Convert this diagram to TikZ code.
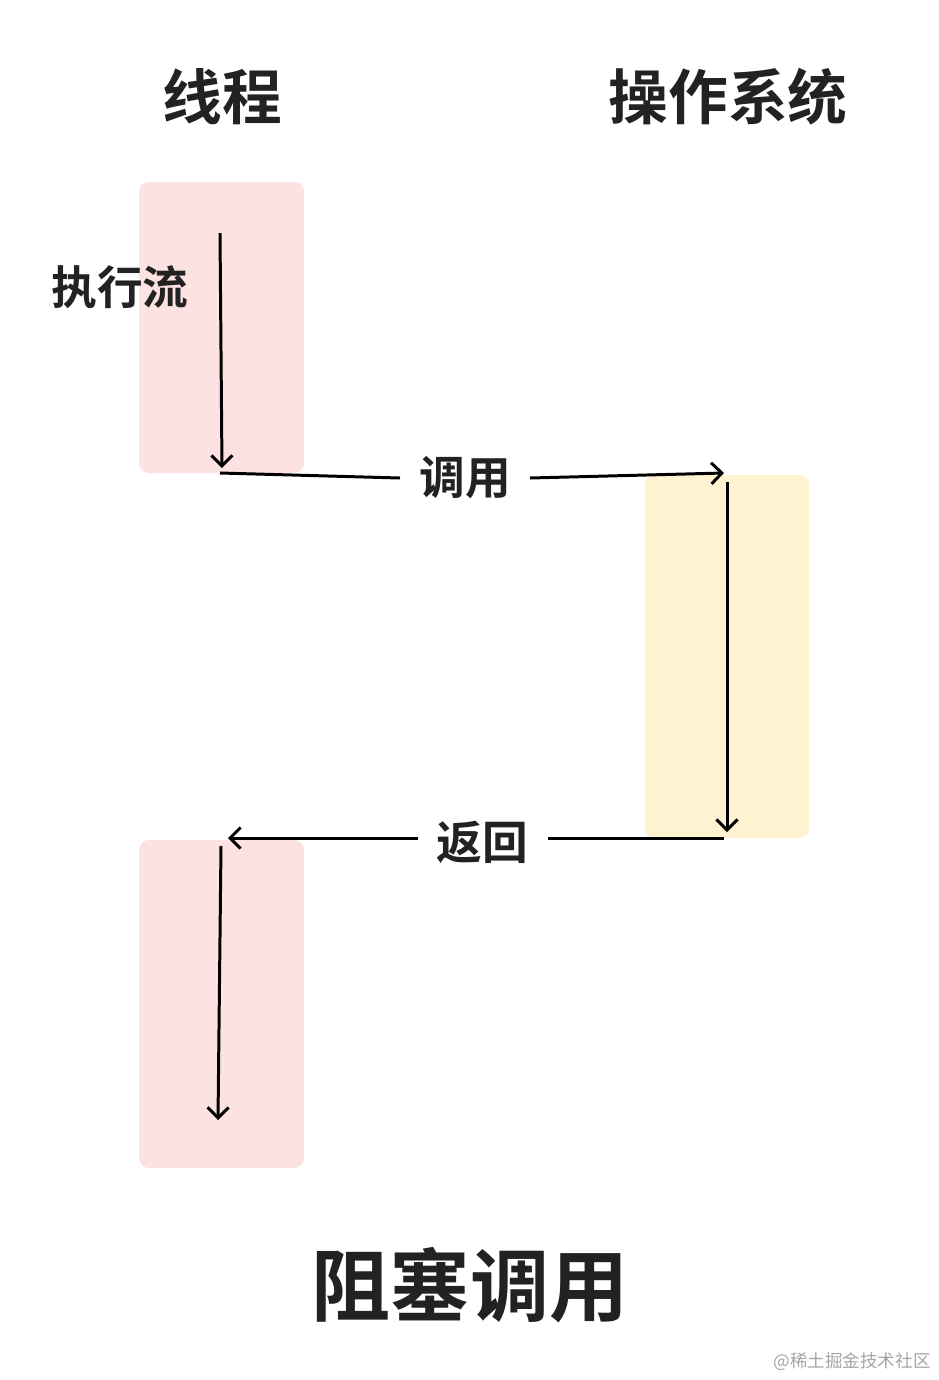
\documentclass[tikz,border=0pt]{standalone}
\usepackage{fontspec}
\newfontfamily\cjk{Noto Sans CJK SC Bold}
\newfontfamily\cjkr{Noto Sans CJK SC}
\usetikzlibrary{arrows.meta}
\definecolor{pinkbg}{HTML}{FDE2E2}
\definecolor{yellowbg}{HTML}{FEF2D0}
\definecolor{ink}{HTML}{222222}
\begin{document}
\begin{tikzpicture}[x=0.02cm,y=-0.02cm,
  lane/.style={rounded corners=0.2cm},
  flow/.style={line width=1.7pt,draw=black,-{Straight Barb[length=6pt,width=12pt,line width=1.7pt]}},
  plain/.style={line width=1.7pt,draw=black},
  lbl/.style={font=\cjk\fontsize{26}{28}\selectfont,text=ink,inner sep=0pt}]
\useasboundingbox (0,0) rectangle (938,1380);
\fill[white] (0,0) rectangle (938,1380);
\fill[pinkbg,lane] (139,182) rectangle (304,473);
\fill[yellowbg,lane] (645,475) rectangle (809,838);
\fill[pinkbg,lane] (139,840) rectangle (304,1168);
\node[font=\cjk\fontsize{34}{36}\selectfont,text=ink] (t1) at (222,97) {线程};
\node[font=\cjk\fontsize{34}{36}\selectfont,text=ink] (t2) at (728,97) {操作系统};
\node[lbl] (exe) at (120,287) {执行流};
\node[lbl] (call) at (465,478) {调用};
\node[lbl] (ret) at (482,842) {返回};
\node[font=\cjk\fontsize{45}{48}\selectfont,text=ink] (title) at (470,1285) {阻塞调用};
\node[font=\cjkr\fontsize{10}{12}\selectfont,text=gray!70] (wm) at (852,1362) {@稀土掘金技术社区};
\coordinate (a1) at (220,233); \coordinate (a2) at (222,468);
\coordinate (c0) at (220,473); \coordinate (c1) at (724,473);
\coordinate (o1) at (727,482); \coordinate (o2) at (727,832);
\coordinate (r0) at (724,838); \coordinate (r1) at (228,838);
\coordinate (b1) at (221,846); \coordinate (b2) at (218,1120);
\draw[flow] (a1) -- (a2);
\draw[plain] (c0) -- (call.west -| 400,0) ;
\draw[flow] (call.east -| 530,0) -- (c1);
\draw[flow] (o1) -- (o2);
\draw[plain] (r0) -- (548,838);
\draw[flow] (418,838) -- (r1);
\draw[flow] (b1) -- (b2);
\end{tikzpicture}
\end{document}
